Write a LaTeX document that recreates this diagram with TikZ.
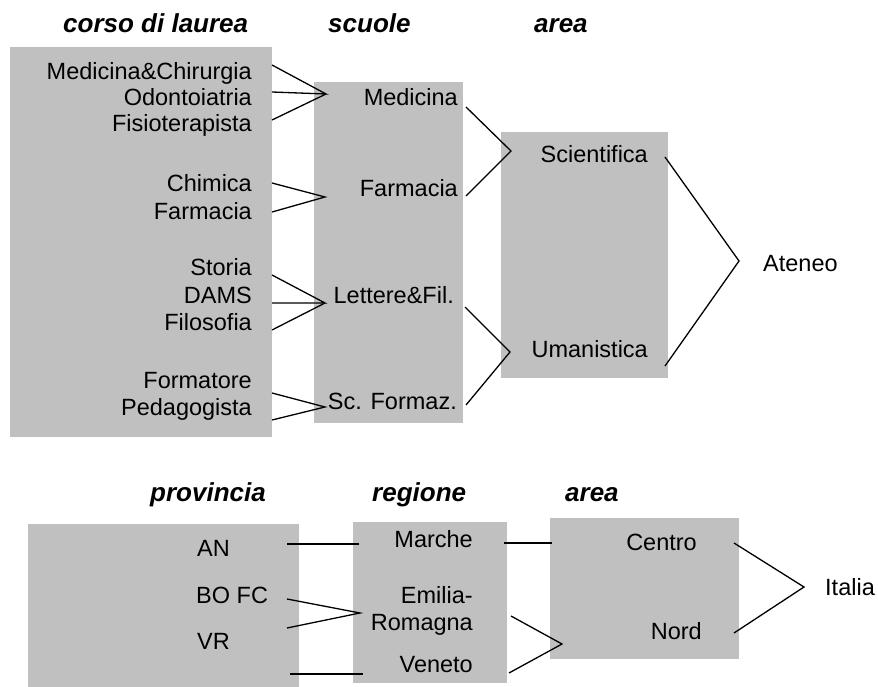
\documentclass[tikz,border=0pt]{standalone}
\usepackage{fontspec}
\setmainfont{Liberation Sans}
\definecolor{boxgray}{HTML}{C0C0C0}
\begin{document}
\begin{tikzpicture}[x=1pt,y=-1pt,
  box/.style={fill=boxgray,draw=none,inner sep=0,minimum width=#1},
  lbl/.style={inner sep=0,anchor=base east,font=\fontsize{23.5}{26}\selectfont},
  lblw/.style={inner sep=0,anchor=base west,font=\fontsize{23.5}{26}\selectfont},
  hdr/.style={inner sep=0,anchor=base west,font=\fontsize{26}{30}\selectfont\bfseries\itshape},
  conn/.style={draw=black,line width=1.3pt,line join=miter}]
\useasboundingbox (0,0) rectangle (878,687);
% boxes
\node[box=262pt,minimum height=390pt] (b1) at (141,242) {};
\node[box=149pt,minimum height=341pt] (b2) at (388.5,252.5) {};
\node[box=167pt,minimum height=246pt] (b3) at (584.5,255) {};
\node[box=271pt,minimum height=163pt] (b4) at (163.5,605.5) {};
\node[box=154pt,minimum height=161pt] (b5) at (430,602.5) {};
\node[box=189pt,minimum height=141pt] (b6) at (644.5,588.5) {};
% headers
\node[hdr] (h1) at (63,32.5) {corso di laurea};
\node[hdr] (h2) at (328,32.5) {scuole};
\node[hdr] (h3) at (534,32.5) {area};
\node[hdr] (h4) at (150,501) {provincia};
\node[hdr] (h5) at (372,501) {regione};
\node[hdr] (h6) at (565,501) {area};
% box1 labels
\node[lbl] (t1) at (252,79.3) {Medicina\&Chirurgia};
\node[lbl] (t2) at (252,105.7) {Odontoiatria};
\node[lbl] (t3) at (252,132) {Fisioterapista};
\node[lbl] (t4) at (252,191.7) {Chimica};
\node[lbl] (t5) at (252,219) {Farmacia};
\node[lbl] (t6) at (252,275.7) {Storia};
\node[lbl] (t7) at (252,303) {DAMS};
\node[lbl] (t8) at (252,330.7) {Filosofia};
\node[lbl] (t9) at (252,388) {Formatore};
\node[lbl] (t10) at (252,415) {Pedagogista};
% box2 labels
\node[lbl] (s1) at (458,106) {Medicina};
\node[lbl] (s2) at (458,197) {Farmacia};
\node[lbl] (s3) at (454,303) {Lettere\&Fil.};
\node[lbl] (s4) at (457,409) {Sc. Formaz.};
% box3 labels
\node[lbl] (a1) at (648,163) {Scientifica};
\node[lbl] (a2) at (648,357) {Umanistica};
\node[lblw] (at) at (763,271) {Ateneo};
% bottom labels
\node[lblw] (p1) at (197,556) {AN};
\node[lblw] (p2) at (196,603) {BO FC};
\node[lblw] (p3) at (197,649) {VR};
\node[lbl] (r1) at (473,547) {Marche};
\node[lbl] (r2) at (473,603) {Emilia-};
\node[lbl] (r2b) at (473,630) {Romagna};
\node[lbl] (r3) at (473,672) {Veneto};
\node[lbl] (c1) at (697,550) {Centro};
\node[lbl] (c2) at (702,639) {Nord};
\node[lblw] (it) at (825,595) {Italia};
% connector points
\coordinate (t1e) at (272,65);
\coordinate (t2e) at (272,92);
\coordinate (t3e) at (272,120);
\coordinate (s1w) at (326,94);
\coordinate (t4e) at (272,183);
\coordinate (t5e) at (272,212);
\coordinate (s2w) at (325,197);
\coordinate (t6e) at (272,275);
\coordinate (t7e) at (272,303);
\coordinate (t8e) at (272,330);
\coordinate (s3w) at (325,303);
\coordinate (t9e) at (272,393);
\coordinate (t10e) at (272,420);
\coordinate (s4w) at (325,407);
\coordinate (s1e) at (466,107);
\coordinate (s2e) at (466,196);
\coordinate (a1w) at (511,151);
\coordinate (s3e) at (465,307);
\coordinate (s4e) at (466,405);
\coordinate (a2w) at (510,352);
\coordinate (a1e) at (665,157);
\coordinate (a2e) at (665,366);
\coordinate (atw) at (739,261);
\coordinate (p1e) at (287,544);
\coordinate (r1w) at (359,544);
\coordinate (p2e) at (287,599);
\coordinate (p3e) at (287,628);
\coordinate (r2w) at (360,613);
\coordinate (p4e) at (290,674);
\coordinate (r3w) at (363,674);
\coordinate (r1e) at (504,543);
\coordinate (c1w) at (552,543);
\coordinate (r2e) at (511,616);
\coordinate (r3e) at (509,673);
\coordinate (c2w) at (562,644);
\coordinate (c1e) at (734,543);
\coordinate (c2e) at (734,633);
\coordinate (itw) at (804,587);
% connectors
\draw[conn] (t1e) -- (s1w) -- (t2e);
\draw[conn] (t3e) -- (s1w);
\draw[conn] (t4e) -- (s2w) -- (t5e);
\draw[conn] (t6e) -- (s3w) -- (t7e);
\draw[conn] (t8e) -- (s3w);
\draw[conn] (t9e) -- (s4w) -- (t10e);
\draw[conn] (s1e) -- (a1w) -- (s2e);
\draw[conn] (s3e) -- (a2w) -- (s4e);
\draw[conn] (a1e) -- (atw) -- (a2e);
\draw[conn] (p1e) -- (r1w);
\draw[conn] (p2e) -- (r2w) -- (p3e);
\draw[conn] (p4e) -- (r3w);
\draw[conn] (r1e) -- (c1w);
\draw[conn] (r2e) -- (c2w) -- (r3e);
\draw[conn] (c1e) -- (itw) -- (c2e);
\end{tikzpicture}
\end{document}
